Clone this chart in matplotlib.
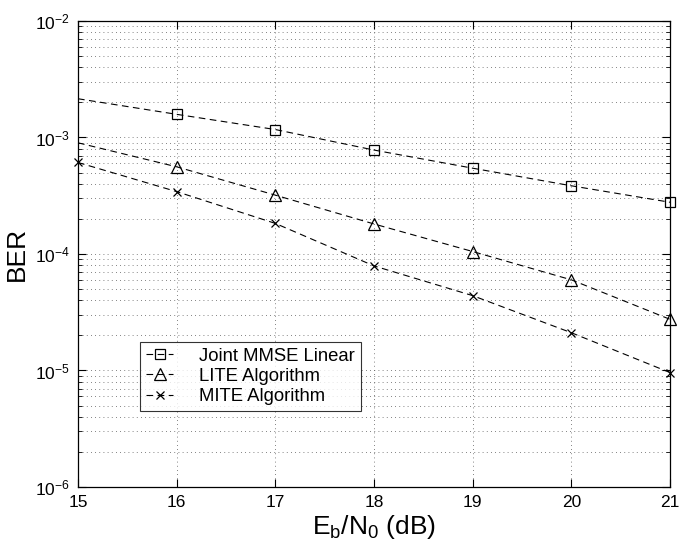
import matplotlib
matplotlib.use("Agg")
import matplotlib.pyplot as plt
from matplotlib.ticker import LogLocator, NullFormatter, FixedLocator

plt.rcParams['font.family'] = ['Liberation Sans', 'DejaVu Sans']
plt.rcParams['mathtext.fontset'] = 'custom'
plt.rcParams['mathtext.rm'] = 'Liberation Sans'
plt.rcParams['mathtext.it'] = 'Liberation Sans'

ebn0 = [15, 16, 17, 18, 19, 20, 21]
ber_mmse = [2.15e-3, 1.58e-3, 1.17e-3, 7.8e-4, 5.45e-4, 3.85e-4, 2.78e-4]
ber_lite = [9.0e-4, 5.6e-4, 3.2e-4, 1.81e-4, 1.05e-4, 6.0e-5, 2.75e-5]
ber_mite = [6.1e-4, 3.43e-4, 1.83e-4, 7.9e-5, 4.39e-5, 2.11e-5, 9.6e-6]
labels = ["Joint MMSE Linear", "LITE Algorithm", "MITE Algorithm"]
xticks = [15, 16, 17, 18, 19, 20, 21]

fig = plt.figure(figsize=(6.79, 5.42), dpi=100)
ax = fig.add_axes([0.1149, 0.1015, 0.9867 - 0.1149, 0.9613 - 0.1015])

lw = 0.8
ax.plot(ebn0, ber_mmse, linestyle=(0, (6, 4)), color='black', lw=lw,
        marker='s', markersize=7, markerfacecolor='none', markeredgewidth=0.9,
        markevery=slice(1, None), label=labels[0], clip_on=False)
ax.plot(ebn0, ber_lite, linestyle=(0, (6, 4)), color='black', lw=lw,
        marker='^', markersize=8, markerfacecolor='none', markeredgewidth=0.9,
        markevery=slice(1, None), label=labels[1], clip_on=False)
ax.plot(ebn0, ber_mite, linestyle=(0, (6, 4)), color='black', lw=lw,
        marker='x', markersize=6, markeredgewidth=0.9,
        label=labels[2], clip_on=False)

ax.set_yscale('log')
ax.set_xlim(15, 21)
ax.set_ylim(1e-6, 1e-2)
ax.xaxis.set_major_locator(FixedLocator(xticks))
ax.yaxis.set_major_locator(LogLocator(base=10, numticks=10))
ax.yaxis.set_minor_locator(LogLocator(base=10, subs=range(2, 10), numticks=100))
ax.yaxis.set_minor_formatter(NullFormatter())

ax.grid(True, which='major', axis='both', linestyle=(0, (1, 4)), color='0.35', lw=0.6)
ax.grid(True, which='minor', axis='y', linestyle=(0, (1, 4)), color='0.35', lw=0.6)

ax.tick_params(which='both', direction='in', top=True, right=True, labelsize=12.5, pad=6)
ax.tick_params(which='major', length=6, width=0.8)
ax.tick_params(which='minor', length=3, width=0.6)
for s in ax.spines.values():
    s.set_linewidth(0.9)

ax.set_xlabel(r'E$_\mathregular{b}$/N$_\mathregular{0}$ (dB)', fontsize=19, labelpad=2)
ax.set_ylabel('BER', fontsize=19, labelpad=4)

leg = ax.legend(loc='upper left', bbox_to_anchor=(0.105, 0.311), fontsize=13.3,
                frameon=True, fancybox=False, edgecolor='black', handlelength=1.5,
                handletextpad=1.4, borderpad=0.3, labelspacing=0.18, borderaxespad=0)
leg.get_frame().set_linewidth(0.8)

fig.savefig('out.png', dpi=100)
